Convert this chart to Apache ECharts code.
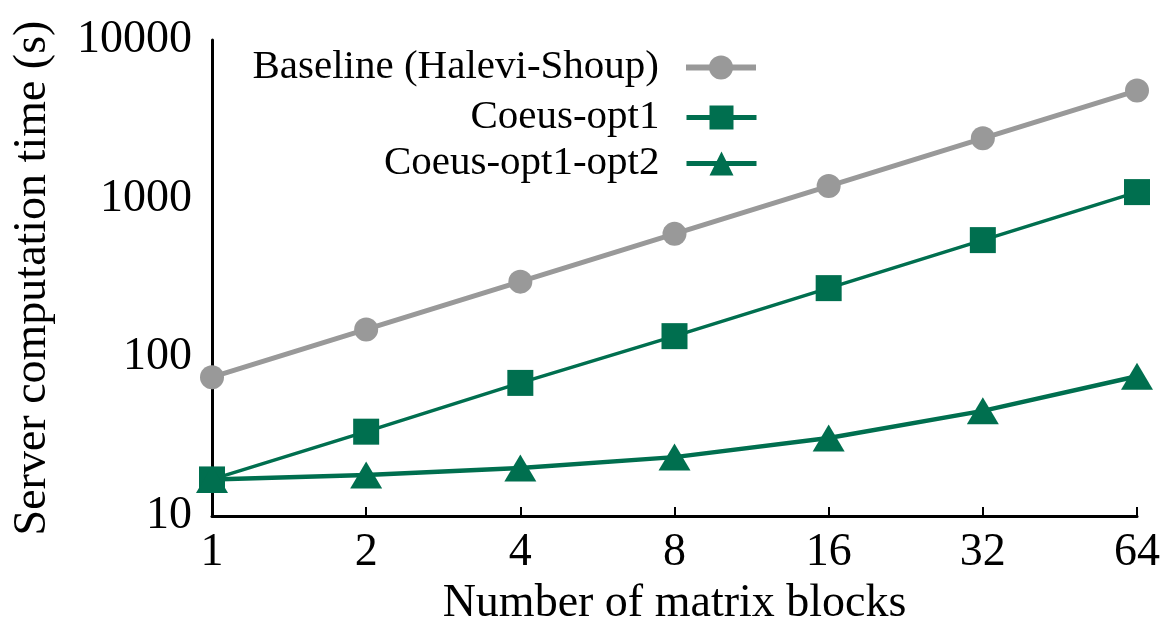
<!DOCTYPE html>
<html>
<head>
<meta charset="utf-8">
<script src="https://cdn.jsdelivr.net/npm/echarts@6/dist/echarts.min.js"></script>
<style>html,body{margin:0;padding:0;background:#fff}#c{width:1176px;height:627px}</style>
</head>
<body>
<div id="c"></div>
<script>
const categories = ['1', '2', '4', '8', '16', '32', '64'];
const baseline = [75, 150, 300, 600, 1200, 2400, 4800];
const opt1 = [17, 34, 69, 136, 273, 548, 1100];
const opt2 = [17, 18.1, 20.1, 23.5, 31, 46, 76];
const seriesNames = ['Baseline (Halevi-Shoup)', 'Coeus-opt1', 'Coeus-opt1-opt2'];
const yTicks = [10, 100, 1000, 10000];

const FONT = '"Liberation Serif", "Times New Roman", serif';
const GRAY = '#999999';
const GREEN = '#006F4F';

const chart = echarts.init(document.getElementById('c'));
function leg(name, top, lw) {
  return {
    data: [name], orient: 'vertical', right: 417, top: top, align: 'right',
    itemWidth: 70, itemHeight: 30, itemGap: 0, padding: 0,
    lineStyle: { width: lw },
    textStyle: { fontFamily: FONT, fontSize: 41, color: '#000', padding: [0, 22, 0, 0] }
  };
}
chart.setOption({
  animation: false,
  grid: { left: 212, right: 39, top: 40, bottom: 111, outerBoundsMode: 'none', containLabel: false },
  legend: [leg(seriesNames[0], 47, 6), leg(seriesNames[1], 97, 5), leg(seriesNames[2], 143, 5)],
  xAxis: {
    type: 'category', data: categories, boundaryGap: false,
    name: 'Number of matrix blocks', nameLocation: 'middle', nameGap: 62,
    nameTextStyle: { fontFamily: FONT, fontSize: 46, color: '#000' },
    axisLine: { lineStyle: { color: '#000', width: 3 } },
    axisTick: { inside: true, length: 9, lineStyle: { color: '#000', width: 2 } },
    axisLabel: { fontFamily: FONT, fontSize: 46, color: '#000', margin: 14 },
    splitLine: { show: false }
  },
  yAxis: {
    type: 'log', logBase: 10, min: 10, max: 10000,
    name: 'Server computation time (s)', nameLocation: 'middle', nameGap: 156,
    nameTextStyle: { fontFamily: FONT, fontSize: 46, color: '#000' },
    axisLine: { show: true, lineStyle: { color: '#000', width: 3 } },
    axisTick: { inside: true, length: 9, lineStyle: { color: '#000', width: 2 } },
    axisLabel: { fontFamily: FONT, fontSize: 46, color: '#000', margin: 20,
      formatter: v => yTicks.includes(Math.round(v)) ? String(Math.round(v)) : '' },
    minorTick: { show: false },
    splitLine: { show: false }
  },
  series: [
    { name: seriesNames[0], type: 'line', data: baseline, symbol: 'circle', symbolSize: 24,
      lineStyle: { color: GRAY, width: 5 }, itemStyle: { color: GRAY } },
    { name: seriesNames[1], type: 'line', data: opt1, symbol: 'rect', symbolSize: 26,
      lineStyle: { color: GREEN, width: 3.5 }, itemStyle: { color: GREEN } },
    { name: seriesNames[2], type: 'line', data: opt2, symbol: 'triangle', symbolSize: [32, 27],
      lineStyle: { color: GREEN, width: 4.5 }, itemStyle: { color: GREEN } }
  ]
});
</script>
</body>
</html>
